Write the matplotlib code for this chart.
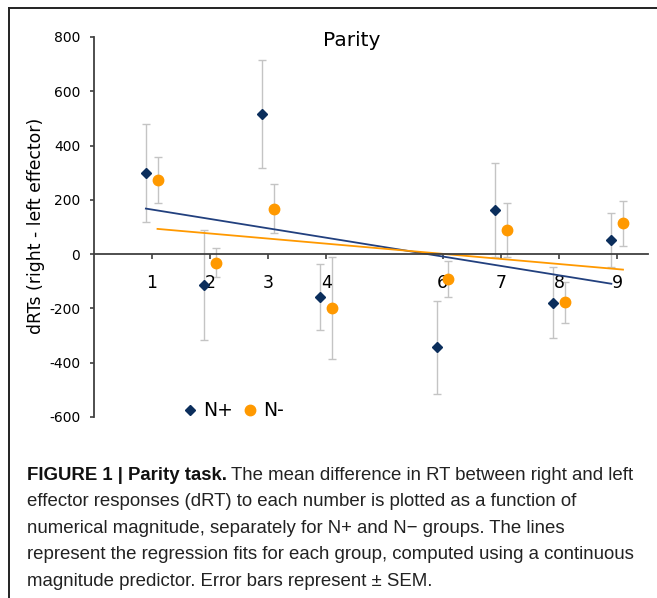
import numpy as np
import matplotlib
matplotlib.use("Agg")
import matplotlib.pyplot as plt
from matplotlib.lines import Line2D

plt.rcParams['axes.unicode_minus'] = False
plt.rcParams['font.family'] = ['DejaVu Sans']

# data
numbers = [1, 2, 3, 4, 6, 7, 8, 9]
nplus = [298, -114, 517, -157, -343, 161, -179, 52]
nplus_sem = [181, 204, 200, 121, 171, 173, 130, 100]
nminus = [273, -31, 168, -200, -92, 90, -178, 114]
nminus_sem = [86, 53, 90, 188, 66, 99, 76, 83]
yticks = [-600, -400, -200, 0, 200, 400, 600, 800]

navy = '#0B2E5C'
navy_line = '#22407E'
orange = '#FF9900'
errcol = '#C4C4C4'
axcol = '#404040'

W, H = 657, 598
fig = plt.figure(figsize=(W / 100, H / 100), dpi=100)

def fx(px):
    return px / W

def fy(py):
    return 1 - py / H

ax = fig.add_axes([fx(93.5), fy(417), fx(648) - fx(93.5), fy(37) - fy(417)])

x = np.array(numbers, dtype=float)
xp = x - 0.1
xm = x + 0.1

# regression fits for each group (continuous magnitude predictor)
bp = np.polyfit(x, nplus, 1)
bm = np.polyfit(x, nminus, 1)
ax.plot([xp[0], xp[-1]], np.polyval(bp, [x[0], x[-1]]), color=navy_line, lw=1.3, zorder=2)
ax.plot([xm[0], xm[-1]], np.polyval(bm, [x[0], x[-1]]), color=orange, lw=1.3, zorder=2)

ax.errorbar(xp, nplus, yerr=nplus_sem, fmt='none', ecolor=errcol, elinewidth=1, capsize=3, capthick=1, zorder=1)
ax.errorbar(xm, nminus, yerr=nminus_sem, fmt='none', ecolor=errcol, elinewidth=1, capsize=3, capthick=1, zorder=1)
ax.plot(xp, nplus, 'D', color=navy, ms=5.5, mec=navy, zorder=3)
ax.plot(xm, nminus, 'o', color=orange, ms=7.5, mec=orange, zorder=3)

ax.set_xlim(0, 9.53)
ax.set_ylim(-600, 800)
ax.set_yticks(yticks)
ax.set_yticklabels([str(v) for v in yticks])
ax.set_xticks(numbers)
ax.set_xticklabels([str(n) for n in numbers])

for s in ['top', 'right']:
    ax.spines[s].set_visible(False)
ax.spines['bottom'].set_position(('data', 0))
ax.spines['bottom'].set_color(axcol)
ax.spines['left'].set_color(axcol)
ax.spines['bottom'].set_linewidth(1.3)
ax.spines['left'].set_linewidth(1.3)
ax.tick_params(axis='y', direction='out', length=3, width=1.2, color=axcol, pad=6.5, labelsize=10)
ax.tick_params(axis='x', direction='out', length=3.5, width=1.2, color=axcol, pad=10.5, labelsize=12.5)
ax.patch.set_visible(False)

fig.text(fx(352), fy(46), 'Parity', ha='center', va='baseline', fontsize=14.5)
fig.text(fx(36), fy(226), 'dRTs (right - left effector)', rotation=90, ha='center', va='center', fontsize=12.4)

handles = [Line2D([], [], marker='D', ls='none', color=navy, ms=5),
           Line2D([], [], marker='o', ls='none', color=orange, ms=7.5)]
ax.legend(handles, ['N+', 'N-'], ncol=2, frameon=False, loc='center left',
          bbox_to_anchor=(fx(183), fy(411)), bbox_transform=fig.transFigure,
          fontsize=13.5, handlelength=0.7, handletextpad=0.35, columnspacing=0.6,
          borderpad=0, borderaxespad=0)

# frame round the panel
fig.add_artist(Line2D([fx(9), 1], [fy(8), fy(8)], color='#222222', lw=1.4))
fig.add_artist(Line2D([fx(9), fx(9)], [fy(8), 0], color='#222222', lw=1.4))

# caption
cap_font = ['Liberation Sans Narrow', 'Liberation Sans', 'DejaVu Sans']
cap_size = 13.4
lines = [
    'effector responses (dRT) to each number is plotted as a function of',
    'numerical magnitude, separately for N+ and N\u2212 groups. The lines',
    'represent the regression fits for each group, computed using a continuous',
    'magnitude predictor. Error bars represent \u00b1 SEM.',
]
y0 = 480
step = 26.4
t0 = fig.text(fx(27), fy(y0), 'FIGURE 1 | Parity task.', fontsize=cap_size, weight='bold',
              family=cap_font, va='baseline', color='#111111')
ax.annotate('The mean difference in RT between right and left', xy=(1, 0), xycoords=t0,
            xytext=(3, 0), textcoords='offset points', va='bottom', ha='left',
            fontsize=cap_size, family=cap_font, color='#222222', annotation_clip=False)
for i, ln in enumerate(lines):
    fig.text(fx(27), fy(y0 + step * (i + 1)), ln, fontsize=cap_size, family=cap_font,
             va='baseline', color='#222222')

fig.savefig('out.png', dpi=100)
